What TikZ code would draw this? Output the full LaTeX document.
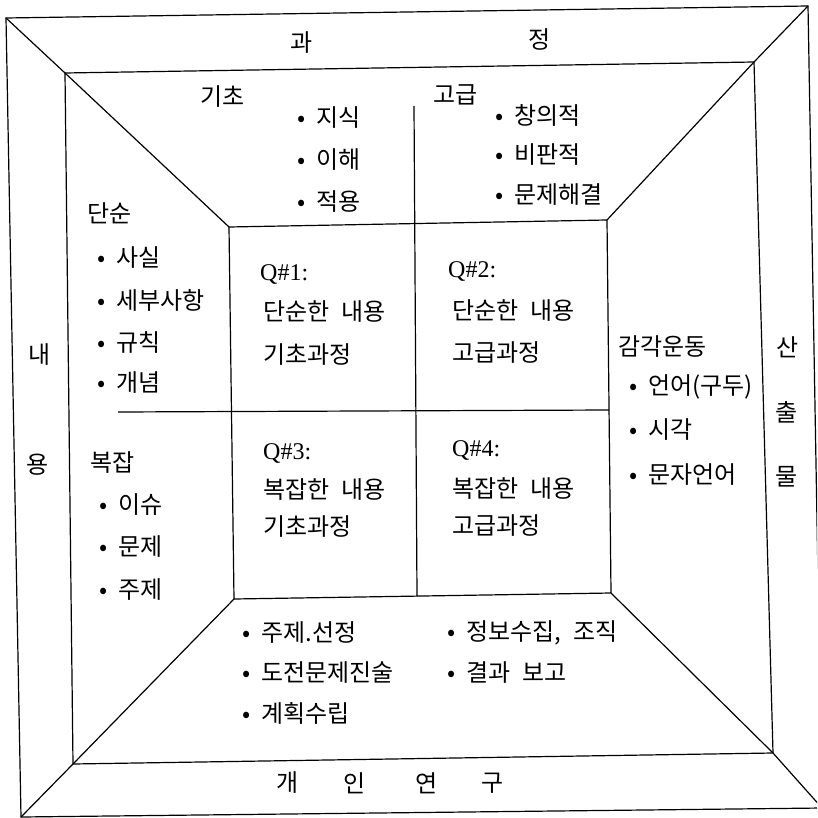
\documentclass[tikz,border=0pt]{standalone}
\usepackage{fontspec}
\setmainfont{Liberation Serif}
\newfontfamily\kr[WordSpace=2.3]{Noto Sans CJK KR}
\newcommand\bulit{\makebox[19pt][l]{•}}
\begin{document}
\begin{tikzpicture}[x=1pt,y=-1pt,
  frame/.style={line width=1.2pt, line join=miter},
  lbl/.style={font=\kr\fontsize{24}{28}\selectfont, inner sep=0},
  itm/.style={lbl, anchor=west},
  qtxt/.style={font=\fontsize{24}{28}\selectfont, inner sep=0, anchor=west}]
\useasboundingbox (0,0) rectangle (817,818);
\clip (0,0) rectangle (817,818);
% corners
\coordinate (oTL) at (6,18);   \coordinate (oTR) at (808,6);
\coordinate (oBR) at (822,808); \coordinate (oBL) at (21,817);
\coordinate (mTL) at (65,73);  \coordinate (mTR) at (754,62);
\coordinate (mBR) at (773,753); \coordinate (mBL) at (73,764);
\coordinate (iTL) at (229,227); \coordinate (iTR) at (607,220);
\coordinate (iBR) at (611,593); \coordinate (iBL) at (234,599);
\coordinate (hL) at (118,412); \coordinate (hR) at (609,410);
\coordinate (vT) at (414,106); \coordinate (vB) at (417,596);
% frames
\draw[frame] (oTL) -- (oTR) -- (oBR) -- (oBL) -- cycle;
\draw[frame] (mTL) -- (mTR) -- (mBR) -- (mBL) -- cycle;
\draw[frame] (iTL) -- (iTR) -- (iBR) -- (iBL) -- cycle;
\draw[frame] (oTL) -- (mTL) -- (iTL);
\draw[frame] (oTR) -- (mTR) -- (iTR);
\draw[frame] (oBR) -- (mBR) -- (iBR);
\draw[frame] (oBL) -- (mBL) -- (iBL);
\draw[frame] (hL) -- (hR);
\draw[frame] (vT) -- (vB);
% outer band labels
\node[lbl] (gwa) at (302,43) {과};
\node[lbl] (jeong) at (540,40) {정};
\node[lbl] (nae) at (40,355) {내};
\node[lbl] (yong) at (38,465) {용};
\node[lbl] (san) at (788,347) {산};
\node[lbl] (chul) at (787,412) {출};
\node[lbl] (mul) at (787,477) {물};
\node[lbl] (gae) at (288,783) {개};
\node[lbl] (in) at (355,783) {인};
\node[lbl] (yeon) at (427,783) {연};
\node[lbl] (gu) at (493,783) {구};
% top
\node[itm] (gicho) at (200,97) {기초};
\node[itm] (t1) at (297,118) {\bulit 지식};
\node[itm] (t2) at (297,160) {\bulit 이해};
\node[itm] (t3) at (297,202) {\bulit 적용};
\node[itm] (gogeup) at (433,95) {고급};
\node[itm] (t4) at (495,115) {\bulit 창의적};
\node[itm] (t5) at (495,155) {\bulit 비판적};
\node[itm] (t6) at (495,195) {\bulit 문제해결};
% left
\node[itm] (dansun) at (87,213) {단순};
\node[itm] (l1) at (97,258) {\bulit 사실};
\node[itm] (l2) at (97,300) {\bulit 세부사항};
\node[itm] (l3) at (97,342) {\bulit 규칙};
\node[itm] (l4) at (97,383) {\bulit 개념};
\node[itm] (bokjap) at (90,463) {복잡};
\node[itm] (l5) at (99,505) {\bulit 이슈};
\node[itm] (l6) at (99,547) {\bulit 문제};
\node[itm] (l7) at (99,590) {\bulit 주제};
% right
\node[itm] (gamgak) at (618,347) {감각운동};
\node[itm] (r1) at (629,387) {\bulit 언어(구두)};
\node[itm] (r2) at (629,430) {\bulit 시각};
\node[itm] (r3) at (629,475) {\bulit 문자언어};
% quadrants
\node[qtxt] (q1) at (260,274) {Q\#1:};
\node[itm] (q1a) at (263,312) {단순한 내용};
\node[itm] (q1b) at (263,355) {기초과정};
\node[qtxt] (q2) at (448,271) {Q\#2:};
\node[itm] (q2a) at (452,311) {단순한 내용};
\node[itm] (q2b) at (452,353) {고급과정};
\node[qtxt] (q3) at (263,453) {Q\#3:};
\node[itm] (q3a) at (263,490) {복잡한 내용};
\node[itm] (q3b) at (263,527) {기초과정};
\node[qtxt] (q4) at (452,450) {Q\#4:};
\node[itm] (q4a) at (452,489) {복잡한 내용};
\node[itm] (q4b) at (452,526) {고급과정};
% bottom
\node[itm] (b1) at (242,633) {\bulit 주제.선정};
\node[itm] (b2) at (242,673) {\bulit 도전문제진술};
\node[itm] (b3) at (242,713) {\bulit 계획수립};
\node[itm] (b4) at (447,633) {\bulit 정보수집, 조직};
\node[itm] (b5) at (447,673) {\bulit 결과 보고};
\end{tikzpicture}
\end{document}
